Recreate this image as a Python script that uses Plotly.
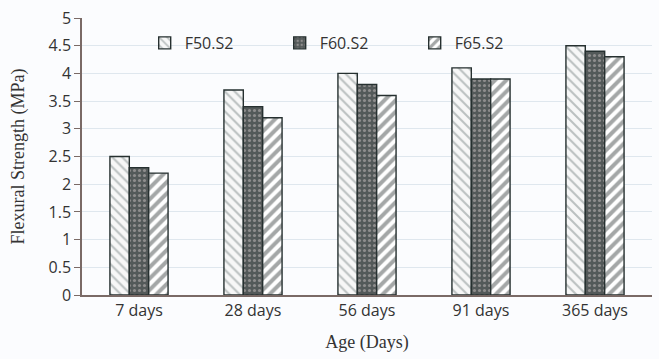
import plotly.graph_objects as go

ages = ["7 days", "28 days", "56 days", "91 days", "365 days"]
f50_s2 = [2.5, 3.7, 4.0, 4.1, 4.5]
f60_s2 = [2.3, 3.4, 3.8, 3.9, 4.4]
f65_s2 = [2.2, 3.2, 3.6, 3.9, 4.3]
y_ticks = [0, 0.5, 1, 1.5, 2, 2.5, 3, 3.5, 4, 4.5, 5]

edge = dict(color="#263030", width=1.4)

fig = go.Figure()
fig.add_trace(go.Bar(
    name="F50.S2", x=ages, y=f50_s2,
    marker=dict(color="#f7f7f7", line=edge,
                pattern=dict(shape="\\", fgcolor="#7f8a8a", bgcolor="#f7f7f7",
                             size=7, solidity=0.3)),
))
fig.add_trace(go.Bar(
    name="F60.S2", x=ages, y=f60_s2,
    marker=dict(color="#535959", line=edge,
                pattern=dict(shape=".", fgcolor="#c9c2c2", bgcolor="#535959",
                             size=5, solidity=0.3)),
))
fig.add_trace(go.Bar(
    name="F65.S2", x=ages, y=f65_s2,
    marker=dict(color="#ffffff", line=edge,
                pattern=dict(shape="/", fgcolor="#4a5050", bgcolor="#ffffff",
                             size=8, solidity=0.5)),
))

serif = "Liberation Serif, Times New Roman, serif"

fig.update_layout(
    width=659, height=359,
    margin=dict(l=82, r=7, t=16, b=64),
    paper_bgcolor="#fbfcfe",
    plot_bgcolor="#fbfcfe",
    barmode="group",
    bargap=0.49,
    bargroupgap=0,
    font=dict(family="Open Sans, sans-serif", size=16, color="#333333"),
    showlegend=True,
    legend=dict(
        orientation="h", x=0.11, y=0.91, xanchor="left", yanchor="middle",
        entrywidth=90, entrywidthmode="pixels",
        bgcolor="rgba(0,0,0,0)", font=dict(size=16, color="#333333"),
        tracegroupgap=0,
    ),
    xaxis=dict(
        showline=True, linecolor="#7a6a66", linewidth=1.5,
        ticks="", tickfont=dict(size=16, color="#333333"),
        title=dict(text="Age (Days)", font=dict(family=serif, size=18, color="#333333"),
                   standoff=15),
    ),
    yaxis=dict(
        range=[0, 5], tickvals=y_ticks, ticktext=[f"{v:g}" for v in y_ticks],
        showline=True, linecolor="#7a6a66", linewidth=1.5,
        ticks="outside", ticklen=6, tickcolor="#7a6a66",
        showgrid=True, gridcolor="#dfe7ee", gridwidth=1,
        zeroline=False,
        tickfont=dict(size=16, color="#333333"),
        title=dict(text="Flexural Strength (MPa)",
                   font=dict(family=serif, size=18, color="#333333"),
                   standoff=19),
    ),
)

fig.write_html("out.html")
